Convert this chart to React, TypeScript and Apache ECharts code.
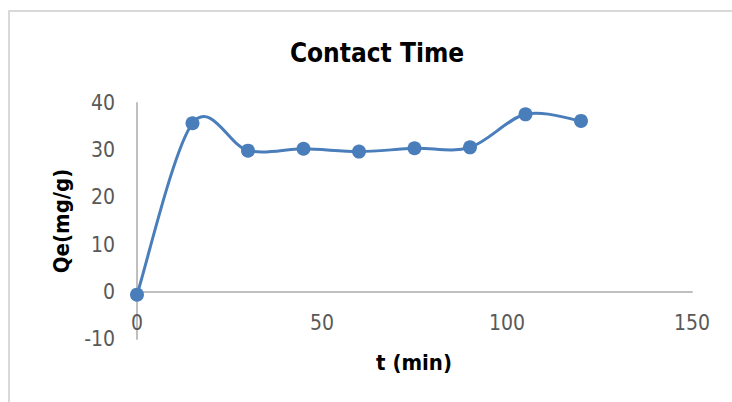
import React, { useEffect, useRef } from "react";
import * as echarts from "echarts";

const timeMin: number[] = [0, 15, 30, 45, 60, 75, 90, 105, 120];
const qeValues: number[] = [-0.6, 35.7, 29.9, 30.3, 29.7, 30.4, 30.6, 37.6, 36.2];
const titleText = "Contact Time";
const xAxisTitle = "t (min)";
const yAxisTitle = "Qe(mg/g)";
const Y_MIN = -10;
const Y_MAX = 40;

const FONT = "'DejaVu Sans Condensed', 'Open Sans', sans-serif";
const BLUE = "#4a7ebb";

export default function App() {
  const ref = useRef<HTMLDivElement>(null);
  useEffect(() => {
    document.body.style.margin = "0";
    const chart = echarts.init(ref.current!, null, { renderer: "svg" });
    const data = timeMin.map((t, i) => [t, qeValues[i]]);
    const gridTop = 103;
    const gridBottom = 63;
    const plotH = 402 - gridTop - gridBottom;
    const zeroOffset = (plotH * (0 - Y_MIN)) / (Y_MAX - Y_MIN);

    const renderCurve = (params: any, api: any) => {
      if (params.dataIndex !== 0) return { type: "group", children: [] };
      const pts = timeMin.map((t, i) => api.coord([t, qeValues[i]]));
      const n = pts.length;
      let d = `M${pts[0][0]},${pts[0][1]}`;
      for (let i = 0; i < n - 1; i++) {
        const p0 = pts[Math.max(0, i - 1)];
        const p1 = pts[i];
        const p2 = pts[i + 1];
        const p3 = pts[Math.min(n - 1, i + 2)];
        const c1x = p1[0] + (p2[0] - p0[0]) / 6;
        const c1y = p1[1] + (p2[1] - p0[1]) / 6;
        const c2x = p2[0] - (p3[0] - p1[0]) / 6;
        const c2y = p2[1] - (p3[1] - p1[1]) / 6;
        d += ` C${c1x},${c1y} ${c2x},${c2y} ${p2[0]},${p2[1]}`;
      }
      return {
        type: "path",
        shape: { pathData: d },
        style: { fill: "none", stroke: BLUE, lineWidth: 3 },
      };
    };

    chart.setOption({
      animation: false,
      backgroundColor: "#ffffff",
      title: {
        text: titleText,
        left: 372,
        top: 35,
        textAlign: "center",
        textStyle: { fontFamily: FONT, fontWeight: "bold", fontSize: 26, color: "#000000" },
      },
      graphic: [
        {
          type: "rect",
          shape: { x: 9, y: 11, width: 740, height: 420 },
          style: { fill: "none", stroke: "#d9d9d9", lineWidth: 2 },
          silent: true,
        },
        {
          type: "text",
          x: 414,
          y: 362,
          style: {
            text: xAxisTitle,
            fontFamily: FONT,
            fontWeight: "bold",
            fontSize: 22,
            fill: "#000000",
            align: "center",
            verticalAlign: "middle",
          },
        },
        {
          type: "text",
          x: 61,
          y: 221,
          rotation: Math.PI / 2,
          style: {
            text: yAxisTitle,
            fontFamily: FONT,
            fontWeight: "bold",
            fontSize: 22,
            fill: "#000000",
            align: "center",
            verticalAlign: "middle",
          },
        },
      ],
      grid: { left: 137, right: 40, top: gridTop, bottom: gridBottom },
      xAxis: {
        type: "value",
        min: 0,
        max: 150,
        interval: 50,
        offset: -zeroOffset,
        axisLine: { show: true, onZero: false, lineStyle: { color: "#bfbfbf", width: 2 } },
        axisTick: { show: false },
        splitLine: { show: false },
        axisLabel: { color: "#595959", fontFamily: FONT, fontSize: 21, margin: 21 },
      },
      yAxis: {
        type: "value",
        min: Y_MIN,
        max: Y_MAX,
        interval: 10,
        axisLine: { show: true, onZero: false, lineStyle: { color: "#bfbfbf", width: 2 } },
        axisTick: { show: false },
        splitLine: { show: false },
        axisLabel: { color: "#595959", fontFamily: FONT, fontSize: 21, margin: 22 },
      },
      series: [
        {
          type: "custom",
          data,
          renderItem: renderCurve,
          clip: false,
          z: 2,
          silent: true,
        },
        {
          type: "scatter",
          data,
          symbol: "circle",
          symbolSize: 14,
          itemStyle: { color: BLUE, opacity: 1 },
          z: 3,
        },
      ],
    });
    return () => chart.dispose();
  }, []);
  return <div ref={ref} style={{ width: 732, height: 402 }} />;
}
